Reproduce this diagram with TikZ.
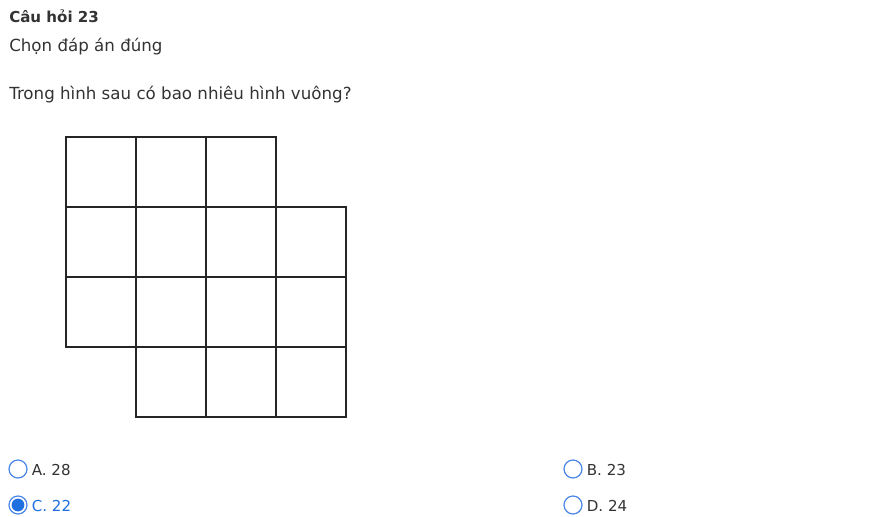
\documentclass[tikz,border=0pt]{standalone}
\usepackage{fontspec}
\setmainfont{DejaVu Sans}
\usepackage{tikz}
\usetikzlibrary{positioning,calc}
\definecolor{txt}{HTML}{333333}
\definecolor{radio}{HTML}{4A86E8}
\definecolor{pick}{HTML}{1F6FE0}
\tikzset{
	qtext/.style={anchor=base west, inner sep=0pt, text=txt, font=\fontsize{12.5}{14}\selectfont},
	anstext/.style={anchor=west, inner sep=0pt, text=txt, font=\fontsize{11.3}{13}\selectfont},
	radiobox/.style={circle, draw=radio, line width=0.9pt, minimum size=13.5pt, inner sep=0pt},
	cell/.style={draw=black!85, line width=0.9pt}
}
\begin{document}
\begin{tikzpicture}[x=0.75pt, y=-0.75pt]
		\useasboundingbox[fill=white] (0,0) rectangle (890,517);
		\node[qtext, font=\fontsize{11.3}{13}\bfseries] (title) at (9,23) {Câu hỏi 23};
		\node[qtext] (hint) at (9,52) {Chọn đáp án đúng};
		\node[qtext] (ask) at (9,100) {Trong hình sau có bao nhiêu hình vuông?};
%
		\foreach \cx/\cy in {0/0,1/0,2/0, 0/1,1/1,2/1,3/1, 0/2,1/2,2/2,3/2, 1/3,2/3,3/3}
			\draw[cell] ({66+70*\cx},{137+70*\cy}) rectangle ++(70,70);
%
		\node[radiobox] (optA) at (18,469) {};
		\node[radiobox] (optB) at (573,469) {};
		\node[radiobox] (optC) at (18,505) {};
		\node[radiobox] (optD) at (573,505) {};
		\fill[pick] (optC.center) circle (4.8pt);
		\node[anstext] (ansA) at ($(optA.east)+(4,1)$) {A. 28};
		\node[anstext] (ansB) at ($(optB.east)+(4,1)$) {B. 23};
		\node[anstext, text=pick] (ansC) at ($(optC.east)+(4,1)$) {C. 22};
		\node[anstext] (ansD) at ($(optD.east)+(4,1)$) {D. 24};
	\end{tikzpicture}
\end{document}
